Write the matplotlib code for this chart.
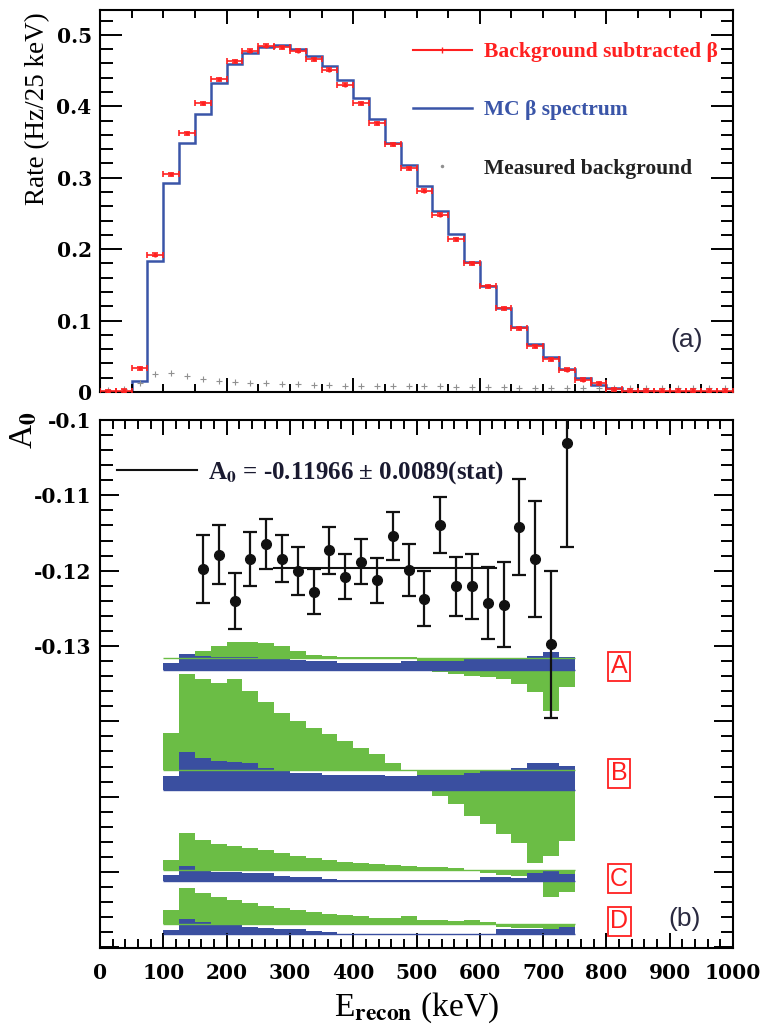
import numpy as np
import matplotlib
matplotlib.use("Agg")
import matplotlib.pyplot as plt
from matplotlib.ticker import MultipleLocator, FuncFormatter
from matplotlib.lines import Line2D

plt.rcParams['font.family'] = ['Liberation Serif', 'DejaVu Serif']
plt.rcParams['font.weight'] = 'bold'
plt.rcParams['mathtext.fontset'] = 'stix'
plt.rcParams['axes.linewidth'] = 1.5

# ---- panel (a): beta spectrum, 25 keV bins from 0 to 1000 keV
edges = np.arange(0, 1025, 25)
centers = edges[:-1] + 12.5

mc_rate = [0, 0, 0.016, 0.184, 0.292, 0.348, 0.389, 0.433, 0.459, 0.475,
           0.483, 0.486, 0.481, 0.471, 0.456, 0.437, 0.411, 0.382, 0.348, 0.318,
           0.288, 0.254, 0.221, 0.182, 0.149, 0.117, 0.091, 0.067, 0.049, 0.032,
           0.019, 0.010, 0.005, 0.002, 0.001, 0, 0, 0, 0, 0]

data_rate = [0.001, 0.002, 0.033, 0.192, 0.305, 0.362, 0.404, 0.438, 0.463, 0.478,
             0.485, 0.483, 0.478, 0.466, 0.451, 0.430, 0.404, 0.376, 0.347, 0.313,
             0.282, 0.248, 0.214, 0.180, 0.148, 0.117, 0.089, 0.064, 0.046, 0.031,
             0.017, 0.012, 0.004, 0.002, 0.002, 0.002, 0.002, 0.002, 0.002, 0.002]

bkg_rate = [0.003, 0.004, 0.012, 0.025, 0.027, 0.022, 0.018, 0.016, 0.014, 0.013,
            0.012, 0.011, 0.011, 0.010, 0.010, 0.009, 0.009, 0.009, 0.008, 0.008,
            0.008, 0.008, 0.007, 0.007, 0.007, 0.007, 0.006, 0.006, 0.006, 0.006,
            0.006, 0.005, 0.005, 0.005, 0.005, 0.005, 0.005, 0.005, 0.005, 0.005]

# ---- panel (b): asymmetry per bin
a0_energy = np.arange(162.5, 750, 25)
a0_value = [-0.1198, -0.1179, -0.1240, -0.1185, -0.1165, -0.1184, -0.1200, -0.1228,
            -0.1173, -0.1208, -0.1188, -0.1213, -0.1154, -0.1199, -0.1237, -0.1139,
            -0.1221, -0.1221, -0.1243, -0.1245, -0.1142, -0.1184, -0.1298, -0.1030]
a0_error = [0.0045, 0.0039, 0.0037, 0.0036, 0.0033, 0.0031, 0.0032, 0.0030,
            0.0031, 0.0030, 0.0030, 0.0030, 0.0032, 0.0034, 0.0037, 0.0037,
            0.0039, 0.0043, 0.0048, 0.0056, 0.0064, 0.0077, 0.0098, 0.0138]
a0_fit = -0.11966
fit_range = (275, 625)

# systematic bands A-D (shift of A0 in units of 1e-3, 25 keV bins 100-750 keV)
band_edges = np.arange(100, 775, 25)
band_names = ['A', 'B', 'C', 'D']
green_base = [-0.13164, -0.14653, -0.15973, -0.16685]
blue_base = [-0.13316, -0.14916, -0.16116, -0.16827]
green_A = [0, 0.27, 1.03, 1.69, 2.13, 2.23, 2.04, 1.6, 1.03, 0.44, 0.27, 0.13, 0.13,
           0.13, 0.13, 0.13, -0.4, -1.87, -2.09, -2.31, -2.53, -2.76, -3.43, -4.53, -6.93, -3.87]
blue_A = [0.93, 2.13, 1.87, 1.73, 1.73, 1.73, 1.51, 1.51, 1.33, 1.2, 1.2, 0.89, 0.89,
          0.89, 0.89, 1.2, 1.2, 1.2, 1.2, 1.51, 1.51, 1.51, 1.6, 1.87, 2.31, 1.64]
green_B = [5.03, 12.8, 12.13, 11.6, 12.13, 10.53, 9.03, 7.69, 6.57, 5.69, 4.8, 3.91, 3.03,
           2.13, 1.03, 0.13, -1.33, -3.33, -4.4, -6.0, -7.07, -8.4, -9.6, -12.27, -11.33, -9.33]
blue_B = [1.87, 5.07, 4.31, 3.87, 3.73, 3.64, 2.97, 2.53, 2.31, 2.31, 2.09, 2.09, 2.0,
          2.0, 1.87, 1.96, 2.09, 2.09, 2.09, 2.31, 2.53, 2.76, 2.97, 3.64, 3.64, 3.29]
green_C = [1.33, 4.89, 4.0, 3.47, 3.2, 2.89, 2.67, 2.31, 1.87, 1.56, 1.33, 1.11, 0.97,
           0.8, 0.67, 0.53, 0.44, 0.36, 0.23, 0.0, -0.4, -0.67, -0.8, -0.8, -3.6, -2.93]
blue_C = [0.76, 1.96, 1.43, 1.2, 1.2, 0.97, 0.97, 0.63, 0.53, 0.44, 0.17, 0.07, 0.07,
          0.07, 0.07, 0.07, 0.07, 0.07, 0.07, 0.07, 0.53, 0.53, 0.4, 1.07, 1.33, 0.93]
green_D = [1.77, 4.67, 4.0, 3.47, 3.11, 2.67, 2.31, 2.0, 1.77, 1.56, 1.33, 1.2, 0.97,
           0.76, 0.76, 0.97, 0.53, 0.44, 0.31, 0.53, 0.23, -0.4, -0.53, -0.53, -0.67, -0.93]
blue_D = [0.53, 1.96, 1.64, 1.33, 1.2, 0.97, 0.89, 0.63, 0.63, 0.4, 0.31, 0.09, 0.09,
          0.09, 0.09, 0.09, 0.09, 0.09, 0.09, 0.09, 0.09, 0.76, 0.76, 0.76, 0.76, 1.0]
green_bands = [green_A, green_B, green_C, green_D]
blue_bands = [blue_A, blue_B, blue_C, blue_D]

red = '#ff2020'
blue = '#3a55a8'
band_green = '#6bbd45'
band_blue = '#3a4fa0'

fig = plt.figure(figsize=(7.65, 10.25), dpi=100)
ax1 = fig.add_axes([0.1307, 0.6176, 0.8275, 0.3727])
ax2 = fig.add_axes([0.1307, 0.0751, 0.8275, 0.5151])

# ---------------- (a)
ax1.stairs(mc_rate, edges, color=blue, lw=1.8, baseline=None)
ax1.errorbar(centers, data_rate, xerr=12.5, yerr=0.002, fmt='o', ms=2, color=red,
             ecolor=red, elinewidth=1.2, capsize=2.5, capthick=1.2, zorder=3)
ax1.plot(centers, bkg_rate, '+', color='#909090', ms=4, mew=0.8)

ax1.set_xlim(0, 1000)
ax1.set_ylim(0, 0.535)
ax1.xaxis.set_major_locator(MultipleLocator(200))
ax1.xaxis.set_minor_locator(MultipleLocator(50))
ax1.yaxis.set_major_locator(MultipleLocator(0.1))
ax1.yaxis.set_minor_locator(MultipleLocator(0.02))
ax1.yaxis.set_major_formatter(FuncFormatter(lambda v, p: '%g' % round(v, 3)))
ax1.tick_params(axis='both', which='both', direction='in', top=True, right=True, width=1.4)
ax1.tick_params(axis='x', which='major', length=10, labelbottom=False)
ax1.tick_params(axis='x', which='minor', length=6)
ax1.tick_params(axis='y', which='major', length=16, pad=6, labelsize=14.5,
                labelfontfamily='DejaVu Serif')
ax1.tick_params(axis='y', which='minor', length=9)
ax1.set_ylabel('Rate (Hz/25 keV)', fontsize=19.5, loc='top')
ax1.yaxis.set_label_coords(-0.079, 0.995)

handles = [Line2D([], [], color=red, lw=1.5, marker='|', ms=4),
           Line2D([], [], color=blue, lw=1.8),
           Line2D([], [], color='#909090', ls='none', marker='.', ms=3)]
labels = ['Background subtracted β', 'MC β spectrum', 'Measured background']
ax1.legend(handles, labels, loc='upper left', bbox_to_anchor=(0.494, 0.916),
           frameon=False, fontsize=15.5, handlelength=2.75, handletextpad=0.55,
           labelspacing=1.78, borderpad=0, borderaxespad=0,
           labelcolor=[red, blue, '#222222'])
ax1.text(927, 0.073, '(a)', fontsize=19, family='Liberation Sans', weight='normal',
         color='#2a2a40', ha='center', va='center')

# ---------------- (b)
for i in range(4):
    g = green_base[i] + np.array(green_bands[i]) * 1e-3
    b = blue_base[i] + np.array(blue_bands[i]) * 1e-3
    ax2.stairs(g, band_edges, baseline=green_base[i], fill=True, color=band_green, lw=0)
    ax2.hlines(green_base[i], 100, 750, color=band_green, lw=1)
    ax2.stairs(b, band_edges, baseline=blue_base[i], fill=True, color=band_blue, lw=0)
    ax2.hlines(blue_base[i], 100, 750, color=band_blue, lw=1)

label_y = [-0.13267, -0.14687, -0.16093, -0.16653]
for name, yy in zip(band_names, label_y):
    ax2.text(820, yy, name, fontsize=18, family='Liberation Sans', weight='normal',
             color=red, ha='center', va='center',
             bbox=dict(boxstyle='square,pad=0.1', fc='white', ec=red, lw=1.3))

ax2.errorbar(a0_energy, a0_value, yerr=a0_error, fmt='o', ms=7, color='#111111',
             elinewidth=1.6, capsize=5, capthick=1.6, zorder=4)
fit_line, = ax2.plot(fit_range, [a0_fit, a0_fit], color='#111111', lw=1.5, zorder=3)
ax2.legend([fit_line], [r'A$_{\mathbf{0}}$ = -0.11966 ± 0.0089(stat)'],
           loc='upper left', bbox_to_anchor=(0.027, 0.925), frameon=False,
           fontsize=18, handlelength=3.2, handletextpad=0.42, borderpad=0,
           borderaxespad=0, labelcolor='#1a1a30')
ax2.text(924, -0.1663, '(b)', fontsize=19, family='Liberation Sans', weight='normal',
         color='#2a2a40', ha='center', va='center')

ax2.set_xlim(0, 1000)
ax2.set_ylim(-0.1701, -0.1)
ax2.xaxis.set_major_locator(MultipleLocator(100))
ax2.xaxis.set_minor_locator(MultipleLocator(20))
ax2.yaxis.set_major_locator(MultipleLocator(0.01))
ax2.yaxis.set_minor_locator(MultipleLocator(0.002))
ax2.yaxis.set_major_formatter(
    FuncFormatter(lambda v, p: '%g' % round(v, 3) if v > -0.135 else ''))
ax2.tick_params(axis='both', which='both', direction='in', top=True, right=True, width=1.4)
ax2.tick_params(axis='x', which='major', length=11, pad=11, labelsize=14.5,
                labelfontfamily='DejaVu Serif')
ax2.tick_params(axis='x', which='minor', length=6.5)
ax2.tick_params(axis='y', which='major', length=14, pad=6, labelsize=14.5,
                labelfontfamily='DejaVu Serif')
ax2.tick_params(axis='y', which='minor', length=9)
ax2.set_ylabel(r'A$_{\mathbf{0}}$', fontsize=24, loc='top')
ax2.yaxis.set_label_coords(-0.095, 1.016)
ax2.set_xlabel(r'E$_{\mathbf{recon}}$ (keV)', fontsize=24)
ax2.xaxis.set_label_coords(0.5, -0.08)

fig.savefig('out.png', dpi=100)
